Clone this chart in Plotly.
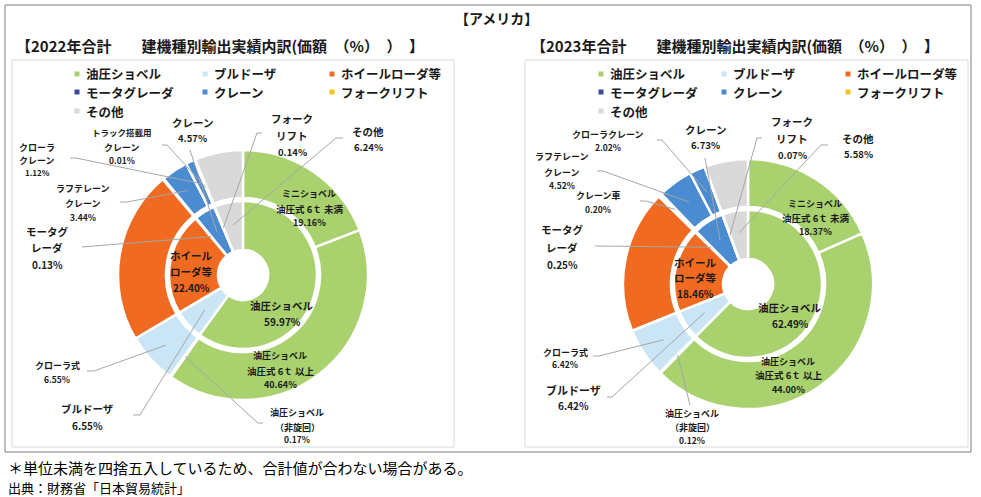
import math
import plotly.graph_objects as go

W, H = 981, 497
FONT = "Noto Sans CJK JP"

# ---------------- data ----------------
categories = ["油圧ショベル", "ブルドーザ", "ホイールローダ等", "モータグレーダ",
              "クレーン", "フォークリフト", "その他"]
cat_colors = ["#A9D16E", "#C9E5F6", "#F06A22", "#3B4A9A", "#4A8BD1", "#F5C51F", "#D9D9D9"]

inner_2022 = [59.97, 6.55, 22.40, 0.13, 4.57, 0.14, 6.24]
outer_labels_2022 = ["ミニショベル 油圧式6t未満", "油圧ショベル 油圧式6t以上", "油圧ショベル（非旋回）",
                     "クローラ式", "ホイールローダ等", "モータグレーダ", "ラフテレーンクレーン",
                     "クローラクレーン", "トラック搭載用クレーン", "フォークリフト", "その他"]
outer_2022 = [19.16, 40.64, 0.17, 6.55, 22.40, 0.13, 3.44, 1.12, 0.01, 0.14, 6.24]
outer_parent_2022 = [0, 0, 0, 1, 2, 3, 4, 4, 4, 5, 6]

inner_2023 = [62.49, 6.42, 18.46, 0.25, 6.73, 0.07, 5.58]
outer_labels_2023 = ["ミニショベル 油圧式6t未満", "油圧ショベル 油圧式6t以上", "油圧ショベル（非旋回）",
                     "クローラ式", "ホイールローダ等", "モータグレーダ", "クレーン車",
                     "ラフテレーンクレーン", "クローラクレーン", "フォークリフト", "その他"]
outer_2023 = [18.37, 44.00, 0.12, 6.42, 18.46, 0.25, 0.20, 4.52, 2.02, 0.07, 5.58]
outer_parent_2023 = [0, 0, 0, 1, 2, 3, 4, 4, 4, 5, 6]

title_main = "【アメリカ】"
subtitle_2022 = "【2022年合計　　建機種別輸出実績内訳(価額　（%）　）　】"
subtitle_2023 = "【2023年合計　　建機種別輸出実績内訳(価額　（%）　）　】"
footnotes = ["＊単位未満を四捨五入しているため、合計値が合わない場合がある。",
             "出典：財務省「日本貿易統計」"]

# ---------------- geometry / layout helpers ----------------
R_OUT, HOLE_OUT_PX, R_IN, HOLE_IN_PX = 125, 77, 74, 25


def px(x):
    return x / W


def py(y):
    return 1 - y / H


def domain(cx, cy, r):
    return dict(x=[(cx - r) / W, (cx + r) / W], y=[1 - (cy + r) / H, 1 - (cy - r) / H])


def mid_angle(values, idx):
    tot = sum(values)
    start = sum(values[:idx]) / tot * 360
    return start + values[idx] / tot * 180


fig = go.Figure()
shapes = []
annotations = []


def add_text(x, y, text, size, bold=True, color="#1a1a1a", xanchor="center"):
    annotations.append(dict(x=px(x), y=py(y), xref="paper", yref="paper", showarrow=False,
                            text=f"<b>{text}</b>" if bold else text, xanchor=xanchor, yanchor="middle",
                            font=dict(family=FONT, size=size, color=color)))


def draw_chart(cx, cy, inner, outer, parent, labels, leaders):
    fig.add_trace(go.Pie(values=outer, labels=[f"o{i}" for i in range(len(outer))], sort=False,
                         direction="clockwise", rotation=0, hole=HOLE_OUT_PX / R_OUT,
                         domain=domain(cx, cy, R_OUT), textinfo="none", showlegend=False,
                         hoverinfo="skip",
                         marker=dict(colors=[cat_colors[p] for p in parent],
                                     line=dict(color="white", width=2.5))))
    fig.add_trace(go.Pie(values=inner, labels=categories, sort=False,
                         direction="clockwise", rotation=0, hole=HOLE_IN_PX / R_IN,
                         domain=domain(cx, cy, R_IN), textinfo="none", showlegend=False,
                         hoverinfo="skip",
                         marker=dict(colors=cat_colors, line=dict(color="white", width=2.5))))
    rings = {"in": inner, "out": outer}
    # leader lines
    for ring, idx, anchor, elbow, rr in leaders:
        a = math.radians(mid_angle(rings[ring], idx))
        tx, ty = cx + rr * math.sin(a), cy - rr * math.cos(a)
        pts = [anchor] + ([elbow] if elbow else []) + [(tx, ty)]
        path = "M " + " L ".join(f"{px(x):.5f},{py(y):.5f}" for x, y in pts)
        shapes.append(dict(type="path", path=path, xref="paper", yref="paper",
                           line=dict(color="#A6A6A6", width=1)))
    # labels
    for ring, idx, x, ys, lines, sizes in labels:
        val = rings[ring][idx]
        texts = lines + [f"{val:.2f}%"]
        for y, t, s in zip(ys, texts, sizes):
            add_text(x, y, t, s)


# ---- 2022 chart ----
labels_2022 = [
    ("out", 0, 309, [193, 209, 222], ["ミニショベル", "油圧式 6ｔ 未満"], [9, 9.5, 9]),
    ("in", 0, 282, [305, 321], ["油圧ショベル"], [10.5, 10]),
    ("out", 1, 280, [355, 371, 384], ["油圧ショベル", "油圧式 6ｔ 以上"], [9, 9.5, 9]),
    ("in", 2, 191, [255, 271, 287], ["ホイール", "ローダ等"], [10.5, 10.5, 10]),
    ("out", 3, 57, [365, 379], ["クローラ式"], [9, 8.5]),
    ("in", 1, 87, [408, 425], ["ブルドーザ"], [10.5, 10]),
    ("out", 2, 297, [412, 427, 439], ["油圧ショベル", "（非旋回）"], [9, 9, 8.5]),
    ("in", 3, 47, [231, 247, 264], ["モータグ", "レーダ"], [10.5, 10.5, 10]),
    ("out", 6, 83, [188, 203, 217], ["ラフテレーン", "クレーン"], [9, 9, 8.5]),
    ("out", 7, 37, [147, 160, 173], ["クローラ", "クレーン"], [9, 9, 8]),
    ("out", 8, 122, [132, 147, 160], ["トラック搭載用", "クレーン"], [8.5, 9, 8.5]),
    ("in", 4, 192, [123, 138], ["クレーン"], [10.5, 9.5]),
    ("in", 5, 292, [118, 135, 152], ["フォーク", "リフト"], [10.5, 10.5, 9.5]),
    ("in", 6, 368, [132, 147], ["その他"], [10.5, 9.5]),
]
leaders_2022 = [
    ("out", 3, (87, 371), (94, 371), 104),
    ("in", 1, (133, 415), (140, 415), 52),
    ("out", 2, (263, 423), (258, 423), 100),
    ("in", 3, (82, 247), None, 50),
    ("out", 6, (120, 202), (127, 202), 101),
    ("out", 7, (70, 158), (76, 158), 101),
    ("out", 8, (162, 145), (167, 145), 95),
    ("in", 4, (190, 150), None, 50),
    ("in", 5, (262, 133), (257, 133), 51),
    ("in", 6, (343, 138), (336, 138), 51),
]

# ---- 2023 chart ----
labels_2023 = [
    ("out", 8, 608, [134, 147], ["クローラクレーン"], [9, 8.5]),
    ("in", 4, 705, [130, 145], ["クレーン"], [10.5, 9.5]),
    ("in", 5, 792, [121, 138, 155], ["フォーク", "リフト"], [10.5, 10.5, 9.5]),
    ("in", 6, 858, [138, 154], ["その他"], [10.5, 9.5]),
    ("out", 0, 815, [203, 218, 232], ["ミニショベル", "油圧式 6ｔ 未満"], [9, 9.5, 9]),
    ("out", 7, 562, [157, 172, 185], ["ラフテレーン", "クレーン"], [9, 9, 8.5]),
    ("out", 6, 598, [195, 209], ["クレーン車"], [9, 8.5]),
    ("in", 3, 562, [230, 247, 264], ["モータグ", "レーダ"], [10.5, 10.5, 10]),
    ("in", 2, 695, [262, 277, 293], ["ホイール", "ローダ等"], [10.5, 10.5, 10]),
    ("in", 0, 790, [307, 323], ["油圧ショベル"], [10.5, 10]),
    ("out", 1, 788, [361, 375, 389], ["油圧ショベル", "油圧式 6ｔ 以上"], [9, 9.5, 9]),
    ("out", 3, 565, [352, 364], ["クローラ式"], [9, 8.5]),
    ("in", 1, 573, [390, 405], ["ブルドーザ"], [11, 10]),
    ("out", 2, 692, [413, 427, 440], ["油圧ショベル", "（非旋回）"], [9, 9, 8.5]),
]
leaders_2023 = [
    ("out", 8, (657, 140), (662, 140), 100),
    ("in", 4, (705, 158), None, 52),
    ("in", 5, (762, 138), (757, 138), 52),
    ("in", 6, (828, 145), (821, 145), 52),
    ("out", 7, (597, 171), (603, 171), 101),
    ("out", 6, (640, 201), (646, 201), 104),
    ("in", 3, (595, 246), None, 52),
    ("out", 3, (593, 356), (599, 356), 101),
    ("in", 1, (607, 397), (612, 397), 52),
    ("out", 2, (690, 405), None, 100),
]

# frames
shapes.append(dict(type="rect", xref="paper", yref="paper", x0=px(5), x1=px(971), y0=py(452), y1=py(5),
                   line=dict(color="#7F7F7F", width=1)))
shapes.append(dict(type="rect", xref="paper", yref="paper", x0=px(12), x1=px(454), y0=py(447), y1=py(60),
                   line=dict(color="#D9D9D9", width=1)))
shapes.append(dict(type="rect", xref="paper", yref="paper", x0=px(525), x1=px(968), y0=py(447), y1=py(60),
                   line=dict(color="#D9D9D9", width=1)))

draw_chart(243, 275, inner_2022, outer_2022, outer_parent_2022, labels_2022, leaders_2022)
draw_chart(748, 284, inner_2023, outer_2023, outer_parent_2023, labels_2023, leaders_2023)

# legends
for x0s in ([77, 205, 332], [601, 724, 848]):
    for i, (name, col) in enumerate(zip(categories, cat_colors)):
        lx = x0s[i % 3]
        ly = [74, 92, 111][i // 3]
        shapes.append(dict(type="rect", xref="paper", yref="paper", x0=px(lx - 2.5), x1=px(lx + 2.5),
                           y0=py(ly + 2.5), y1=py(ly - 2.5), fillcolor=col, line=dict(width=0)))
        add_text(lx + 7, ly, name, 12.5, xanchor="left")

# titles
add_text(496, 18, title_main, 14)
add_text(14, 46, subtitle_2022, 15, xanchor="left")
add_text(529, 46, subtitle_2023, 15, xanchor="left")
add_text(6, 467, footnotes[0], 15, bold=False, color="#000000", xanchor="left")
add_text(6, 487, footnotes[1], 13, bold=False, color="#000000", xanchor="left")

fig.update_layout(width=W, height=H, margin=dict(l=0, r=0, t=0, b=0),
                  paper_bgcolor="white", plot_bgcolor="white", showlegend=False,
                  shapes=shapes, annotations=annotations)
fig.write_html("out.html", config={"displayModeBar": False},
               post_script="document.body.style.margin='0';document.body.style.overflow='hidden';")
